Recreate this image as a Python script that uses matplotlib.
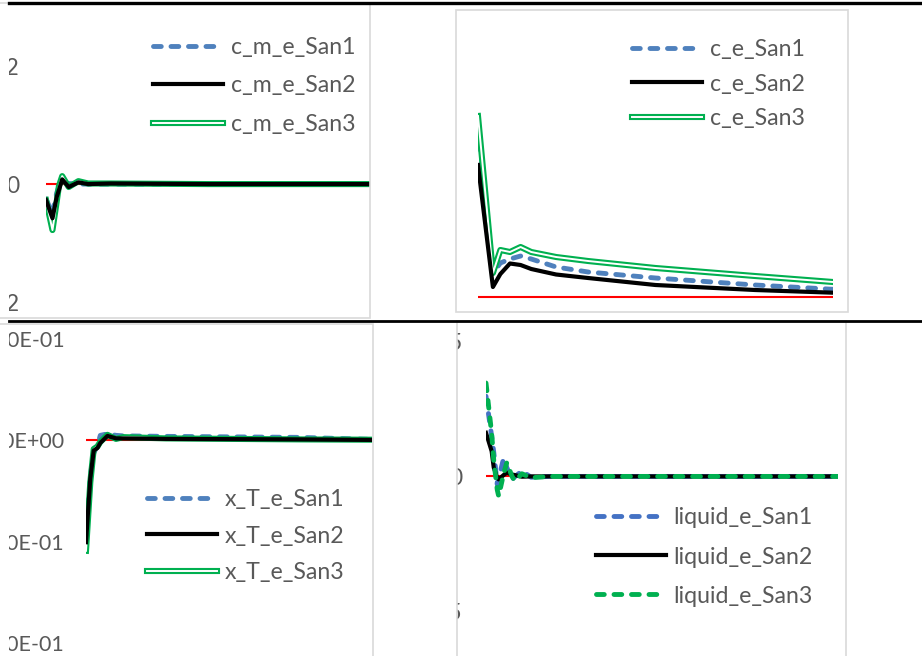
import matplotlib
matplotlib.use("Agg")
import matplotlib.pyplot as plt
import matplotlib.patheffects as pe
from matplotlib.patches import Rectangle
from matplotlib.lines import Line2D
from matplotlib.transforms import Bbox, TransformedBbox
from matplotlib.ticker import FuncFormatter

plt.rcParams['font.family'] = ['Lato', 'DejaVu Sans']

# ---- data ----
# top left : c_m_e
t_cm = [0, 2, 3.3, 4, 5, 7, 10, 13, 20, 50, 100]
c_m_e_San1 = [-0.025, -0.050, -0.015, -0.004, 0.003, 0.001, 0.000, 0.000, 0.000, 0.000, 0.000]
c_m_e_San2 = [-0.027, -0.058, -0.022, -0.010, 0.008, -0.005, 0.003, 0.000, 0.001, 0.000, 0.000]
c_m_e_San3 = [-0.027, -0.078, -0.030, -0.003, 0.0135, -0.005, 0.005, 0.001, 0.001, 0.000, 0.000]
c_m_e_ref = [0, 0]

# top right : c_e
t_ce = [0, 4.2, 6.3, 9, 12, 15, 22, 31, 50, 78, 100]
c_e_San1 = [1.72, 0.24, 0.34, 0.38, 0.41, 0.38, 0.30, 0.25, 0.19, 0.12, 0.077]
c_e_San2 = [1.32, 0.10, 0.23, 0.335, 0.32, 0.28, 0.225, 0.19, 0.12, 0.07, 0.043]
c_e_San3 = [1.81, 0.24, 0.47, 0.45, 0.50, 0.45, 0.40, 0.36, 0.29, 0.21, 0.15]
c_e_ref = [0, 0]

# bottom left : x_T_e
t_xt = [0, 1.5, 2.7, 4, 5, 7.5, 10.5, 13, 28, 75, 100]
x_T_e_San1 = [-0.200, -0.070, -0.025, -0.010, 0.010, 0.013, 0.010, 0.009, 0.008, 0.006, 0.002]
x_T_e_San2 = [-0.201, -0.075, -0.020, -0.015, -0.005, 0.009, 0.004, 0.004, 0.003, 0.002, 0.001]
x_T_e_San3 = [-0.218, -0.083, -0.017, -0.012, -0.003, 0.011, 0.003, 0.0065, 0.004, 0.002, 0.0014]
x_T_e_ref = [0, 0]

# bottom right : liquid_e
t_lq = [0, 1.6, 2.2, 3.2, 3.6, 5.0, 5.9, 7.4, 8.2, 10.2, 12.8, 18, 50, 100]
liquid_e_San1 = [2.98, 1.5, 0.9, -0.30, -0.08, 0.67, 0.33, -0.11, -0.01, 0.20, -0.03, 0.0, 0.0, 0.0]
liquid_e_San2 = [1.62, 0.94, 0.33, -0.05, -0.11, 0.05, 0.14, 0.07, 0.05, -0.01, 0.0, 0.0, 0.0, 0.0]
liquid_e_San3 = [3.47, 1.6, 0.6, -0.5, -0.73, 0.1, 0.51, 0.0, -0.17, 0.10, -0.05, 0.0, 0.0, 0.0]
liquid_e_ref = [0, 0]

W, H = 922, 656
GREY = '#595959'
BLUE = '#4F81BD'
GREEN = '#00B050'

fig = plt.figure(figsize=(W / 100, H / 100), dpi=100)


def box(l, t, r, b):
    return [l / W, 1 - b / H, (r - l) / W, (b - t) / H]


def frame(l, t, r, b):
    fig.patches.append(Rectangle((l / W, 1 - b / H), (r - l) / W, (b - t) / H,
                                 transform=fig.transFigure, fill=False,
                                 edgecolor='#D9D9D9', lw=1.2, zorder=0))


def make_ax(pos, ylim, yticks, fmt, pad, clip_left, size=16.5):
    ax = fig.add_axes(box(*pos))
    ax.set_xlim(0, 100)
    ax.set_ylim(*ylim)
    ax.set_yticks(yticks)
    ax.yaxis.set_major_formatter(FuncFormatter(fmt))
    ax.set_xticks([])
    for s in ax.spines.values():
        s.set_visible(False)
    ax.tick_params(axis='y', length=0, pad=pad, labelsize=size, labelcolor=GREY)
    ax.patch.set_alpha(0)
    # the screenshots were cropped: labels are cut at the crop edge
    clip = TransformedBbox(Bbox.from_extents(clip_left / W, 0, 1, 1), fig.transFigure)
    for tk in ax.yaxis.get_major_ticks():
        tk.label1.set_clip_on(True)
        tk.label1.set_clip_box(clip)
    return ax


def draw(ax, t, ref, s1, s2, s3, names, leg_xy, spacing, blue=BLUE, san3_dashed=False):
    ax.plot([t[0], t[-1]], ref, color='red', lw=1.5)
    l1, = ax.plot(t, s1, color=blue, lw=3.5, dashes=(1.6, 2.0), dash_capstyle='round', label=names[0])
    if san3_dashed:
        l2, = ax.plot(t, s2, color='black', lw=3, label=names[1])
        l3, = ax.plot(t, s3, color=GREEN, lw=3.5, dashes=(1.6, 2.0), dash_capstyle='round', label=names[2])
    else:
        # excel "double" line: black shows through the gap
        l3, = ax.plot(t, s3, color='white', lw=1.4, label=names[2],
                      path_effects=[pe.Stroke(linewidth=4.4, foreground=GREEN), pe.Normal()])
        l2, = ax.plot(t, s2, color='black', lw=3, label=names[1])
    leg = ax.legend(handles=[l1, l2, l3], loc='center left',
                    bbox_to_anchor=(leg_xy[0] / W, 1 - leg_xy[1] / H),
                    bbox_transform=fig.transFigure, frameon=False, fontsize=16.7,
                    handlelength=3.0, handletextpad=0.35, labelspacing=spacing,
                    borderpad=0, borderaxespad=0)
    for txt in leg.get_texts():
        txt.set_color(GREY)
    return leg


def general(v, pos):
    return '0' if abs(v) < 1e-9 else f'{v:g}'


def sci(v, pos):
    return f'{v:.2E}'


# chart frames
frame(-10, 3, 370, 318)
frame(456, 10, 848, 312)
frame(-10, 324, 373, 670)
frame(457, 321, 846, 670)

# top left
ax1 = make_ax((46, 19, 370, 302), (-0.2, 0.28), [-0.2, 0, 0.2], general, 19, 9)
draw(ax1, t_cm, c_m_e_ref, c_m_e_San1, c_m_e_San2, c_m_e_San3,
     ['c_m_e_San1', 'c_m_e_San2', 'c_m_e_San3'], (153, 86), 0.76)

# top right
ax2 = make_ax((478, 20, 833, 305), (-0.08, 2.77), [], general, 10, 457)
draw(ax2, t_ce, c_e_ref, c_e_San1, c_e_San2, c_e_San3,
     ['c_e_San1', 'c_e_San2', 'c_e_San3'], (632, 84), 0.59)

# bottom left
ax3 = make_ax((86, 329, 372, 643), (-0.4, 0.22), [0.2, 0, -0.2, -0.4], sci, 15.5, 9, size=15.5)
draw(ax3, t_xt, x_T_e_ref, x_T_e_San1, x_T_e_San2, x_T_e_San3,
     ['x_T_e_San1', 'x_T_e_San2', 'x_T_e_San3'], (147, 536), 0.67)

# bottom right
ax4 = make_ax((486, 330, 838, 611), (-5, 5.44), [-5, 0, 5], general, 17, 457)
draw(ax4, t_lq, liquid_e_ref, liquid_e_San1, liquid_e_San2, liquid_e_San3,
     ['liquid_e_San1', 'liquid_e_San2', 'liquid_e_San3'], (596, 557), 0.78,
     blue='#4472C4', san3_dashed=True)

# black separators between the pasted screenshots
x0 = 9 / W
fig.add_artist(Line2D([x0, 1], [1 - 2.5 / H, 1 - 2.5 / H], transform=fig.transFigure, color='black', lw=2.4))
fig.add_artist(Line2D([x0, 1], [1 - 320.5 / H, 1 - 320.5 / H], transform=fig.transFigure, color='black', lw=2))

fig.savefig('out.png', dpi=100)
